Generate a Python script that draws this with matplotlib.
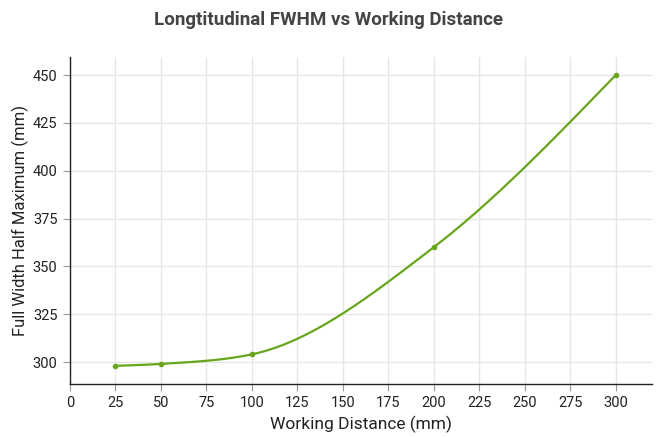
import numpy as np
import matplotlib
matplotlib.use("Agg")
import matplotlib.pyplot as plt

plt.rcParams['font.family'] = ['Roboto', 'DejaVu Sans']

# Datos
distancia = [25, 50, 100, 200, 300]
fwhm = [298, 299, 304, 360, 450]
ticks_x = list(range(0, 301, 25))
ticks_y = list(range(300, 451, 25))


def monotone_x(x, y, xs):
    # curva monotona tipo d3 (curveMonotoneX)
    x = np.asarray(x, float)
    y = np.asarray(y, float)
    h = np.diff(x)
    s = np.diff(y) / h
    m = np.zeros_like(y)
    for k in range(1, len(x) - 1):
        p = (s[k - 1] * h[k] + s[k] * h[k - 1]) / (h[k - 1] + h[k])
        m[k] = (np.sign(s[k - 1]) + np.sign(s[k])) * min(abs(s[k - 1]), abs(s[k]), 0.5 * abs(p))
    m[0] = (3 * s[0] - m[1]) / 2
    m[-1] = (3 * s[-1] - m[-2]) / 2
    idx = np.clip(np.searchsorted(x, xs) - 1, 0, len(x) - 2)
    t = (xs - x[idx]) / h[idx]
    h00 = 2 * t**3 - 3 * t**2 + 1
    h10 = t**3 - 2 * t**2 + t
    h01 = -2 * t**3 + 3 * t**2
    h11 = t**3 - t**2
    return h00 * y[idx] + h10 * h[idx] * m[idx] + h01 * y[idx + 1] + h11 * h[idx] * m[idx + 1]


color = "#67a61c"
fig = plt.figure(figsize=(6.57, 4.37), dpi=100)
ax = fig.add_axes([0.1065, 0.1213, 0.8859, 0.7483])

xs = np.linspace(distancia[0], distancia[-1], 500)
ax.plot(xs, monotone_x(distancia, fwhm, xs), color=color, lw=1.6, zorder=3)
ax.plot(distancia, fwhm, 'o', color=color, ms=3, zorder=4)

ax.set_xlim(0, 320)
ax.set_ylim(288.5, 459.5)
ax.set_xticks(ticks_x)
ax.set_yticks(ticks_y)
ax.grid(True, color="#e6e6e6", lw=1)
ax.set_axisbelow(True)

for s in ["top", "right"]:
    ax.spines[s].set_visible(False)
for s in ["left", "bottom"]:
    ax.spines[s].set_color("#222222")
    ax.spines[s].set_linewidth(1)

ax.tick_params(axis="both", labelsize=10.5, colors="#222222", length=5, width=0.8,
               color="#999999", pad=4)
ax.set_xlabel("Working Distance (mm)", fontsize=12.5, color="#222222", labelpad=4)
ax.set_ylabel("Full Width Half Maximum (mm)", fontsize=12, color="#222222", labelpad=3)

fig.text(0.5, 0.955, "Longtitudinal FWHM vs Working Distance", ha="center", va="center",
         fontsize=13.5, fontweight="bold", color="#444444")

fig.savefig("out.png", dpi=100)
